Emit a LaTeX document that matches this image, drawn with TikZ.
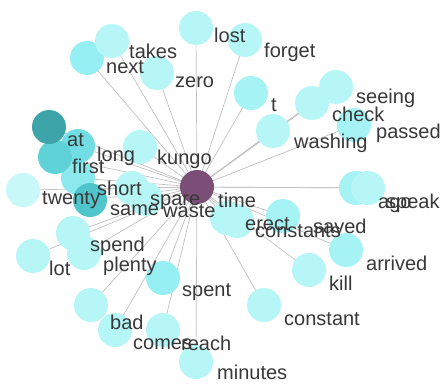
\documentclass[tikz,border=0pt]{standalone}
\usepackage{fontspec}
\setmainfont{Liberation Sans}
\pgfdeclarelayer{bg}
\pgfdeclarelayer{fg}
\pgfsetlayers{bg,main,fg}
\definecolor{lightc}{RGB}{183,246,247}
\definecolor{brightc}{RGB}{150,240,243}
\definecolor{midc}{RGB}{165,243,245}
\definecolor{tealA}{RGB}{61,165,170}
\definecolor{tealB}{RGB}{95,210,216}
\definecolor{tealC}{RGB}{112,222,228}
\definecolor{tealD}{RGB}{140,234,238}
\definecolor{tealE}{RGB}{80,198,204}
\definecolor{paleC}{RGB}{200,248,248}
\definecolor{hubc}{RGB}{122,78,118}
\definecolor{txtc}{RGB}{56,56,56}
\definecolor{linkc}{RGB}{192,192,192}
\tikzset{
  dot/.style={circle, minimum size=34pt, inner sep=0pt, draw=none},
  lab/.style={anchor=base west, inner sep=0pt, text=txtc, font=\fontsize{20}{22}\selectfont},
  link/.style={draw=linkc, line width=0.7pt}
}
\newcommand\wordnode[7]{%
  \node[dot, fill=#4] (n#1) at (#2,#3) {};
  \begin{pgfonlayer}{fg}\node[lab] (l#1) at (#6,#7) {#5};\end{pgfonlayer}
  \begin{pgfonlayer}{bg}\draw[link] (ntime.center) -- (n#1.center);\end{pgfonlayer}
}
\begin{document}
\begin{tikzpicture}[x=1pt,y=-1pt]
\useasboundingbox (0,0) rectangle (447,383);
\node[dot, fill=hubc] (ntime) at (197,187) {};
\begin{pgfonlayer}{fg}\node[lab] (ltime) at (218,207) {time};\end{pgfonlayer}
\wordnode{lost}{196}{28}{lightc}{lost}{214}{42}
\wordnode{forget}{245}{40}{lightc}{forget}{264}{57}
\wordnode{next}{87}{58}{brightc}{next}{106}{73}
\wordnode{takes}{112}{41}{lightc}{takes}{129}{58}
\wordnode{zero}{157}{73}{lightc}{zero}{175}{87}
\wordnode{t}{251}{93}{midc}{t}{271}{111}
\wordnode{check}{312}{103}{lightc}{check}{332}{121}
\wordnode{seeing}{336}{87}{lightc}{seeing}{356}{103}
\wordnode{washing}{273}{131}{lightc}{washing}{294}{148}
\wordnode{passed}{354}{125}{midc}{passed}{376}{138}
\wordnode{kungo}{140}{147}{lightc}{kungo}{157}{164}
\wordnode{twenty}{23}{190}{paleC}{twenty}{42}{204}
\wordnode{short}{78}{178}{tealD}{short}{97}{195}
\wordnode{long}{78}{146}{tealC}{long}{97}{161}
\wordnode{first}{55}{157}{tealB}{first}{72}{173}
\wordnode{at}{49}{127}{tealA}{at}{67}{146}
\wordnode{same}{90}{200}{tealE}{same}{110}{215}
\wordnode{spare}{132}{188}{lightc}{spare}{150}{205}
\wordnode{waste}{146}{199}{lightc}{waste}{163}{217}
\wordnode{ago}{356}{188}{midc}{ago}{378}{208}
\wordnode{speak}{368}{188}{lightc}{speak}{386}{208}
\wordnode{constants}{237}{221}{lightc}{constants}{255}{237}
\wordnode{erect}{227}{218}{lightc}{erect}{245}{230}
\wordnode{saved}{283}{216}{midc}{saved}{313}{233}
\wordnode{arrived}{346}{250}{midc}{arrived}{366}{270}
\wordnode{kill}{309}{270}{lightc}{kill}{329}{290}
\wordnode{constant}{264}{305}{lightc}{constant}{284}{325}
\wordnode{lot}{33}{256}{lightc}{lot}{49}{275}
\wordnode{spend}{73}{233}{lightc}{spend}{90}{251}
\wordnode{plenty}{84}{253}{lightc}{plenty}{103}{271}
\wordnode{spent}{163}{278}{brightc}{spent}{182}{296}
\wordnode{bad}{91}{305}{lightc}{bad}{110}{329}
\wordnode{comes}{115}{330}{lightc}{comes}{133}{349}
\wordnode{reach}{163}{330}{lightc}{reach}{181}{350}
\wordnode{minutes}{196}{362}{lightc}{minutes}{217}{379}
\end{tikzpicture}
\end{document}
